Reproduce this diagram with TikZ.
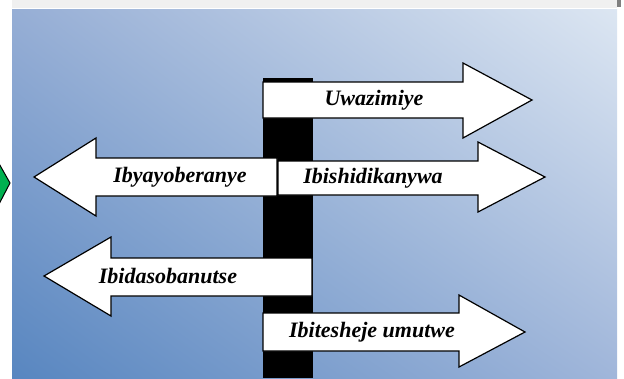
\documentclass[tikz,border=0pt]{standalone}
\usepackage{fontspec}
\setmainfont{Liberation Serif}
\usetikzlibrary{shadings}
\definecolor{BgLL}{RGB}{88,134,192}
\definecolor{BgUL}{RGB}{150,174,213}
\definecolor{BgUR}{RGB}{220,230,242}
\definecolor{BgLR}{RGB}{160,182,218}
\definecolor{StripClr}{RGB}{240,240,240}
\definecolor{MarkClr}{RGB}{0,176,80}

\begin{document}
\begin{tikzpicture}[x=1pt,y=-1pt]
\tikzset{sign/.style={draw=black,line width=1.2pt,fill=white,line join=miter},
  signtext/.style={font=\fontsize{22}{24}\selectfont\bfseries\itshape,inner sep=0pt}}
\useasboundingbox (0,0) rectangle (624,378);
\clip (0,0) rectangle (624,378);

% backdrop
\fill[StripClr] (12,0) rectangle (617,8);
\fill[gray] (617,0) rectangle (621,7);
\shade[lower left=BgLL,upper left=BgUL,upper right=BgUR,lower right=BgLR] (12,9) rectangle (617,378);
\draw[fill=MarkClr,line width=1pt] (-20,150) -- (-3,160) -- (10,183) -- (-3,208) -- (-20,216) -- cycle;

% post
\fill[black] (263,78) rectangle (313,378);

% signs
\draw[sign] (263,82) -- (463,82) -- (463,63) -- (532,100) -- (463,138) -- (463,118) -- (263,118) -- cycle;
\draw[sign] (277,158) -- (96,158) -- (96,138) -- (34,177) -- (96,216) -- (96,196) -- (277,196) -- cycle;
\draw[sign] (278,161) -- (478,161) -- (478,142) -- (545,177) -- (478,212) -- (478,195) -- (278,195) -- cycle;
\draw[sign] (312,258) -- (111,258) -- (111,237) -- (44,276) -- (111,316) -- (111,296) -- (312,296) -- cycle;
\draw[sign] (263,313) -- (459,313) -- (459,295) -- (525,332) -- (459,367) -- (459,351) -- (263,351) -- cycle;

\node[signtext] (uwazimiye) at (374,100) {Uwazimiye};
\node[signtext] (ibyayoberanye) at (180,177) {Ibyayoberanye};
\node[signtext] (ibishidikanywa) at (373,178) {Ibishidikanywa};
\node[signtext] (ibidasobanutse) at (168,276) {Ibidasobanutse};
\node[signtext] (ibitesheje) at (372,332) {Ibitesheje umutwe};
\end{tikzpicture}
\end{document}
